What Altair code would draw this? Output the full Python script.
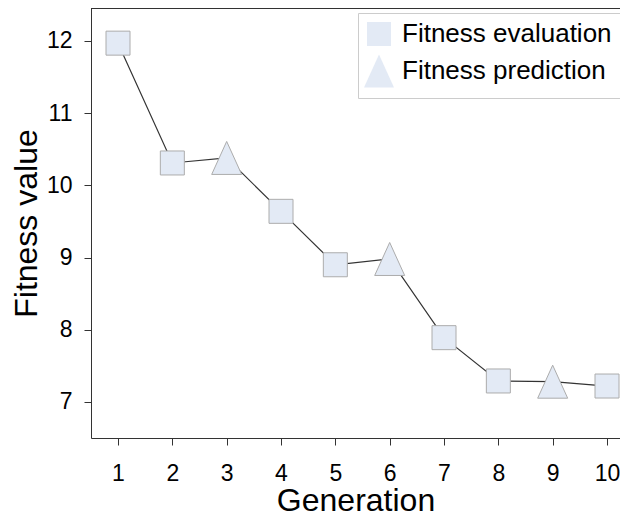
import altair as alt
import pandas as pd

generation = [1, 2, 3, 4, 5, 6, 7, 8, 9, 10]
fitness = [11.97, 10.31, 10.38, 9.64, 8.90, 8.98, 7.89, 7.29, 7.28, 7.22]
kind = ["Fitness evaluation", "Fitness evaluation", "Fitness prediction",
        "Fitness evaluation", "Fitness evaluation", "Fitness prediction",
        "Fitness evaluation", "Fitness evaluation", "Fitness prediction",
        "Fitness evaluation"]
categories = ["Fitness evaluation", "Fitness prediction"]
y_ticks = [7, 8, 9, 10, 11, 12]

df = pd.DataFrame({"Generation": generation, "Fitness": fitness, "Kind": kind})

FONT = "Liberation Sans"
W, H = 529, 430
FILL = "#e3eaf5"
EDGE = "#acacac"
TRI = "M0,-1.375L1.25,1.375L-1.25,1.375Z"

x = alt.X("Generation:Q", scale=alt.Scale(domain=[0.503, 10.239], nice=False, zero=False),
          axis=alt.Axis(values=generation, format="d", title="Generation"))
y = alt.Y("Fitness:Q", scale=alt.Scale(domain=[6.5, 12.457], nice=False, zero=False),
          axis=alt.Axis(values=y_ticks, format="d", title="Fitness value"))

base = alt.Chart(df)

line = base.mark_line(color="#333333", strokeWidth=1.2).encode(x=x, y=y)

points = base.mark_point(filled=True, fill=FILL, stroke=EDGE, strokeWidth=1,
                         size=576, opacity=1, fillOpacity=1).encode(
    x=x, y=y,
    shape=alt.Shape("Kind:N",
                    scale=alt.Scale(domain=categories, range=["square", TRI]),
                    legend=alt.Legend(title=None, orient="none",
                                      legendX=267, legendY=5,
                                      symbolSize=576, symbolFillColor=FILL,
                                      symbolStrokeColor=EDGE, symbolStrokeWidth=1,
                                      labelFontSize=26, labelFont=FONT,
                                      labelColor="#000000", labelOffset=10,
                                      labelLimit=500,
                                      padding=8, rowPadding=4,
                                      strokeColor="#cccccc", fillColor="#ffffff")),
)

top = alt.Chart(df).mark_rule(color="#333333", strokeWidth=1).encode(
    x=alt.value(0), x2=alt.value(W), y=alt.value(0))

chart = alt.layer(top, line, points).properties(
    width=W, height=H,
    autosize=alt.AutoSizeParams(type="none"),
    padding={"left": 83, "top": 0, "right": 0, "bottom": 77},
).configure_view(stroke=None).configure_axis(
    grid=False, domainColor="#333333", tickColor="#333333", domainWidth=1,
    tickSize=7, labelFont=FONT, labelFontSize=23, labelColor="#000000",
    titleFont=FONT, titleFontWeight="normal", titleColor="#000000",
).configure_axisY(labelPadding=12, titlePadding=3, titleFontSize=32).configure_axisX(
    labelPadding=17, titlePadding=0, titleFontSize=32)

chart.save("out.html", embed_options={"renderer": "svg", "actions": False})
